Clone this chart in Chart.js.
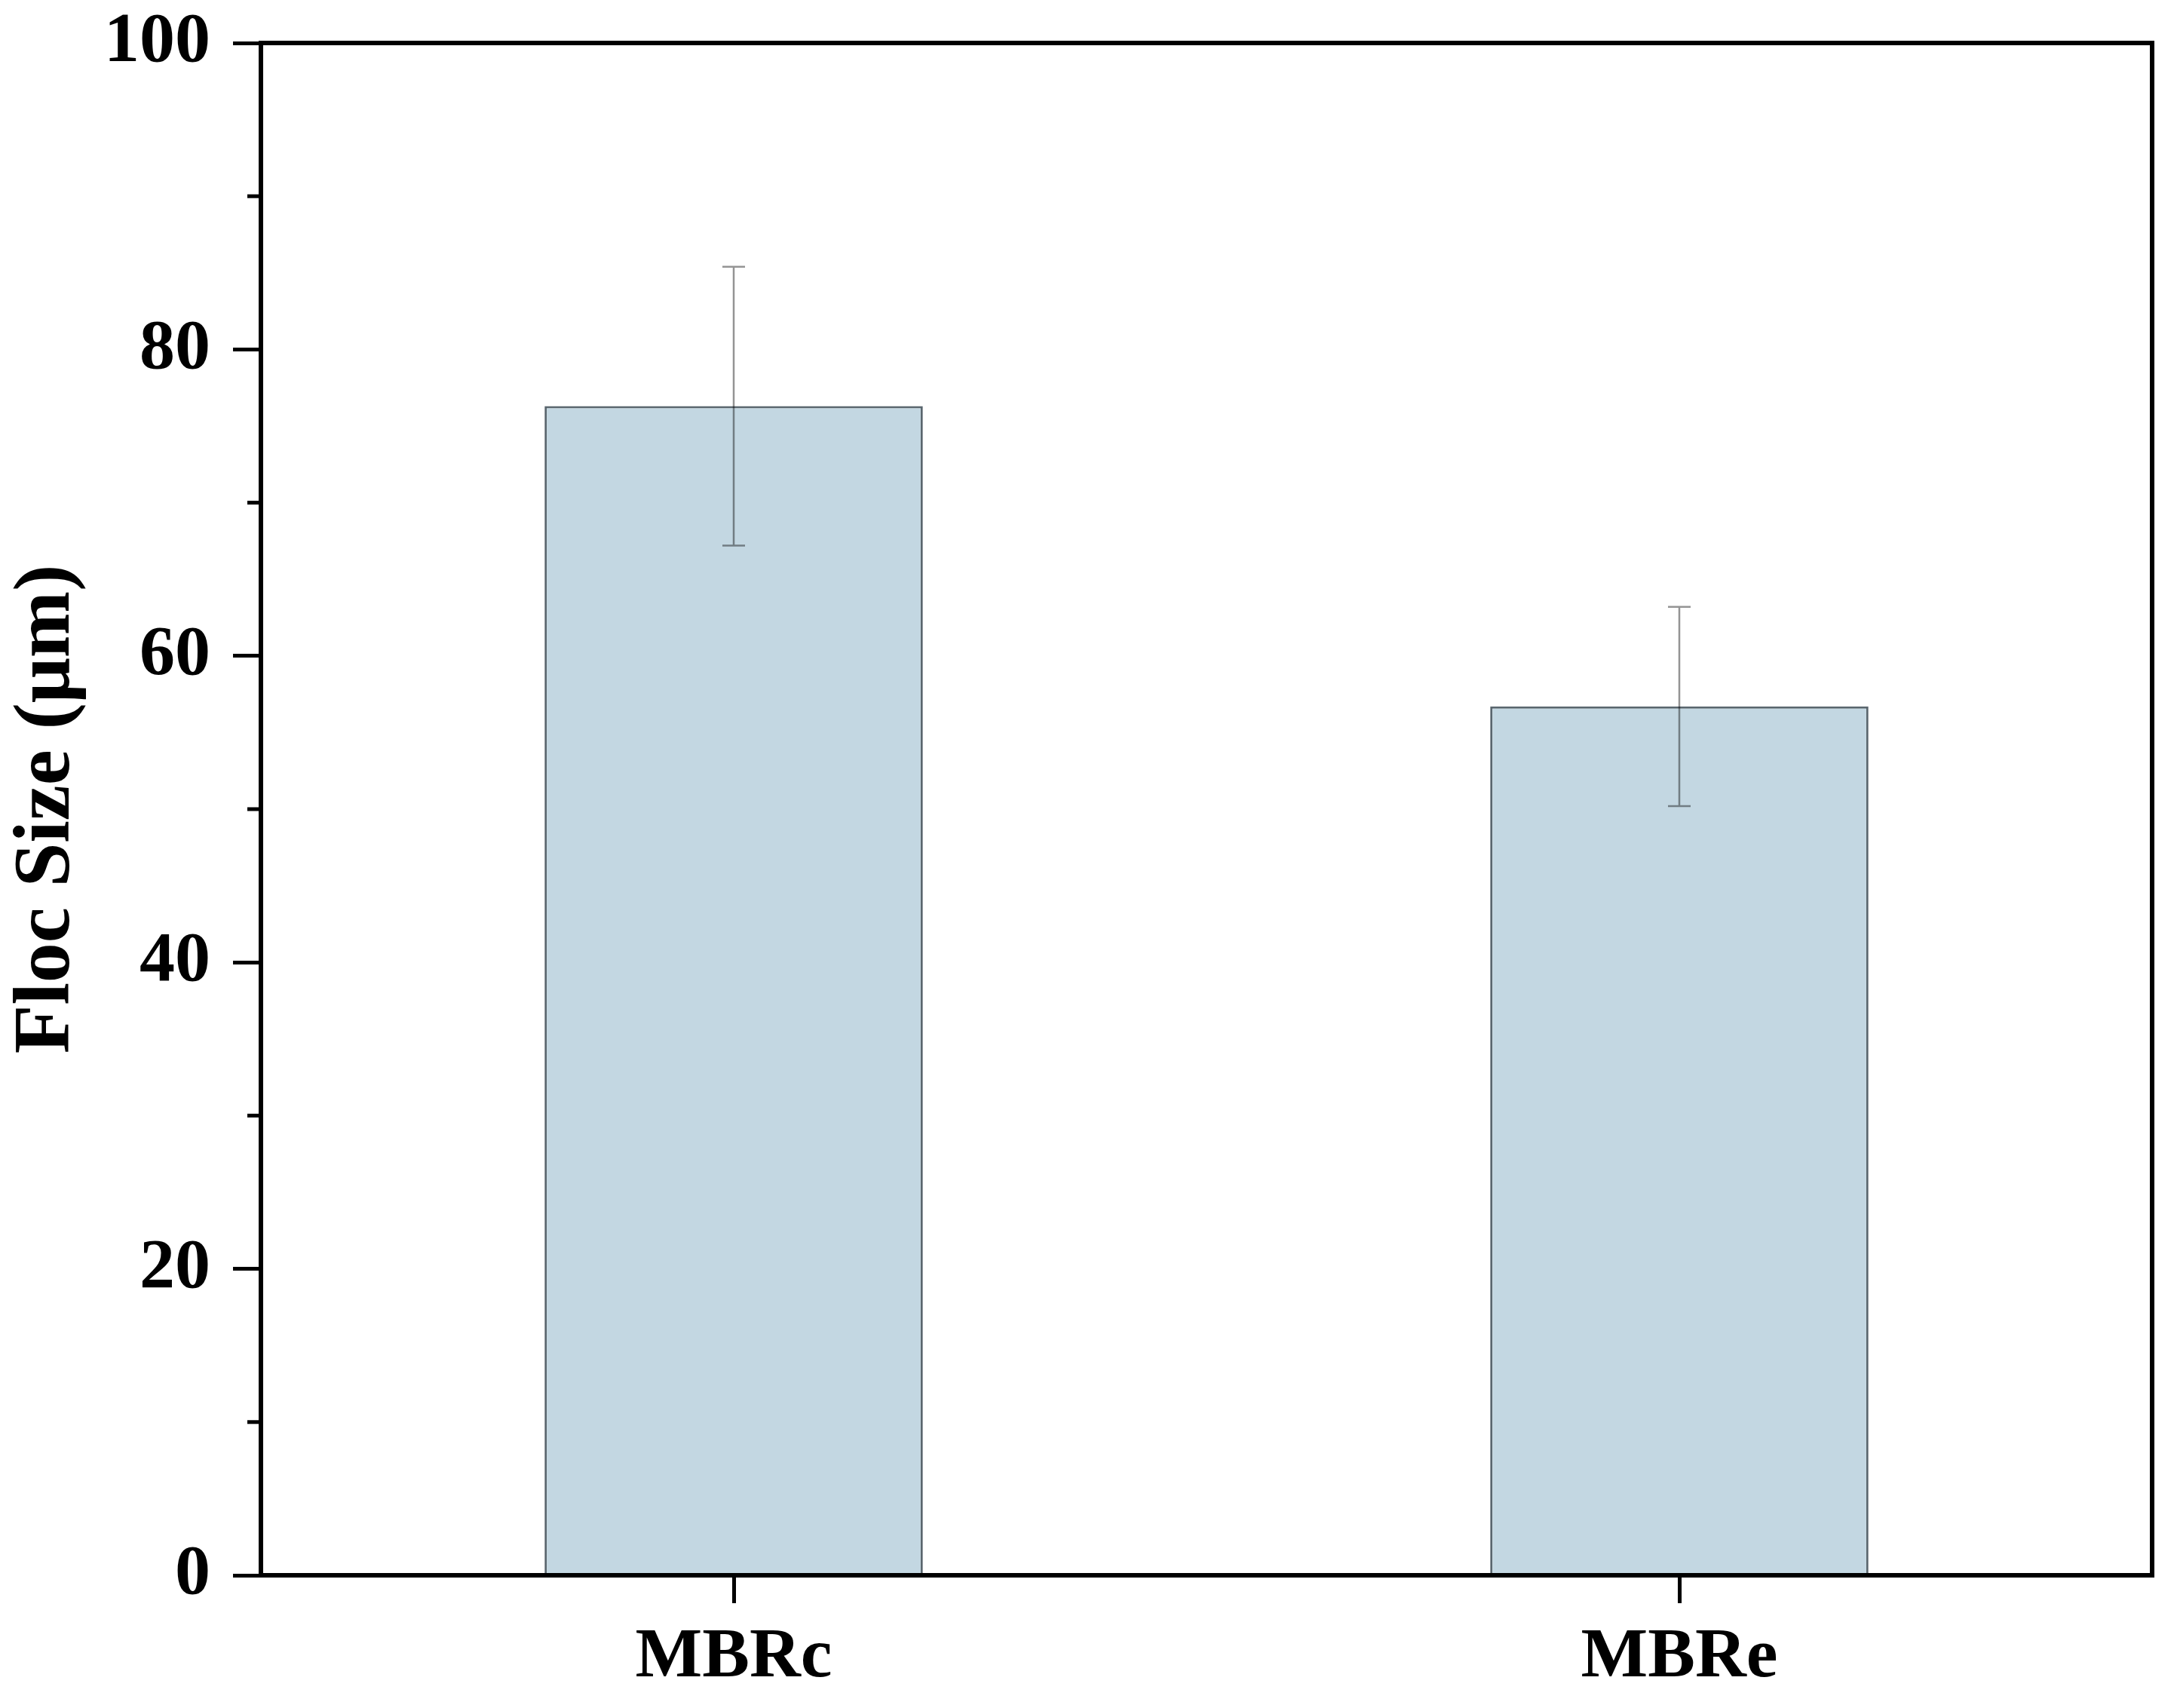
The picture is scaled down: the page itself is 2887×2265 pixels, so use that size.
<!DOCTYPE html>
<html>
<head>
<meta charset="utf-8">
<script src="https://cdn.jsdelivr.net/npm/chart.js@4/dist/chart.umd.min.js"></script>
<style>
  html, body { margin: 0; padding: 0; background: #fff; }
  #wrap { width: 2887px; height: 2265px; }
</style>
</head>
<body>
<div id="wrap"><canvas id="flocChart" width="2887" height="2265"></canvas></div>
<script>
// du lieu doc tu hinh
const categories = ['MBRc', 'MBRe'];
const flocSize = [76.3, 56.7];
const flocErr = [9.1, 6.5];
const minorTicks = [10, 30, 50, 70, 90];

const FONT = "'Liberation Serif', 'Times New Roman', serif";

// ve thanh sai so
const errorBarPlugin = {
  id: 'errorBars',
  afterDatasetsDraw(chart) {
    const ctx = chart.ctx;
    const y = chart.scales.y;
    const meta = chart.getDatasetMeta(0);
    ctx.save();
    ctx.strokeStyle = 'rgba(0,0,0,0.42)';
    ctx.lineWidth = 2.5;
    meta.data.forEach((bar, i) => {
      const top = y.getPixelForValue(flocSize[i] + flocErr[i]);
      const bot = y.getPixelForValue(flocSize[i] - flocErr[i]);
      const cap = 15;
      ctx.beginPath();
      ctx.moveTo(bar.x, top); ctx.lineTo(bar.x, bot);
      ctx.moveTo(bar.x - cap, top); ctx.lineTo(bar.x + cap, top);
      ctx.moveTo(bar.x - cap, bot); ctx.lineTo(bar.x + cap, bot);
      ctx.stroke();
    });
    ctx.restore();
  }
};

// khung va vach phu truc y
const framePlugin = {
  id: 'frame',
  afterDraw(chart) {
    const ctx = chart.ctx;
    const a = chart.chartArea;
    const y = chart.scales.y;
    ctx.save();
    ctx.strokeStyle = '#000';
    ctx.lineWidth = 6;
    ctx.strokeRect(a.left, a.top, a.right - a.left, a.bottom - a.top);
    ctx.lineWidth = 5;
    minorTicks.forEach(v => {
      const py = y.getPixelForValue(v);
      ctx.beginPath();
      ctx.moveTo(a.left, py);
      ctx.lineTo(a.left - 18, py);
      ctx.stroke();
    });
    ctx.restore();
  }
};

new Chart(document.getElementById('flocChart').getContext('2d'), {
  type: 'bar',
  data: {
    labels: categories,
    datasets: [{
      data: flocSize,
      backgroundColor: '#c3d7e2',
      borderColor: '#5a666e',
      borderWidth: 3,
      barPercentage: 0.4,
      categoryPercentage: 1.0
    }]
  },
  options: {
    responsive: false,
    animation: false,
    devicePixelRatio: 1,
    layout: { padding: { top: 57, right: 33, left: 0, bottom: 0 } },
    plugins: {
      legend: { display: false },
      tooltip: { enabled: false }
    },
    scales: {
      x: {
        offset: true,
        grid: { offset: false, drawOnChartArea: false, tickLength: 37, tickWidth: 5, tickColor: '#000' },
        border: { color: '#000', width: 6 },
        ticks: { color: '#000', padding: 16, font: { family: FONT, size: 94, weight: 'bold' } },
        afterFit(scale) {
          scale.height = 176;
          scale.paddingLeft = 0;
          scale.paddingRight = 0;
        }
      },
      y: {
        min: 0,
        max: 100,
        grid: { drawOnChartArea: false, tickLength: 37, tickWidth: 5, tickColor: '#000' },
        border: { color: '#000', width: 6 },
        ticks: { stepSize: 20, color: '#000', padding: 30, font: { family: FONT, size: 94, weight: 'bold' } },
        title: {
          display: true,
          text: 'Floc Size (μm)',
          color: '#000',
          padding: { top: 0, bottom: 0 },
          font: { family: FONT, size: 106, weight: 'bold' }
        },
        afterFit(scale) {
          scale.width = 346;
          scale.paddingTop = 0;
          scale.paddingBottom = 0;
        }
      }
    }
  },
  plugins: [errorBarPlugin, framePlugin]
});
</script>
</body>
</html>
